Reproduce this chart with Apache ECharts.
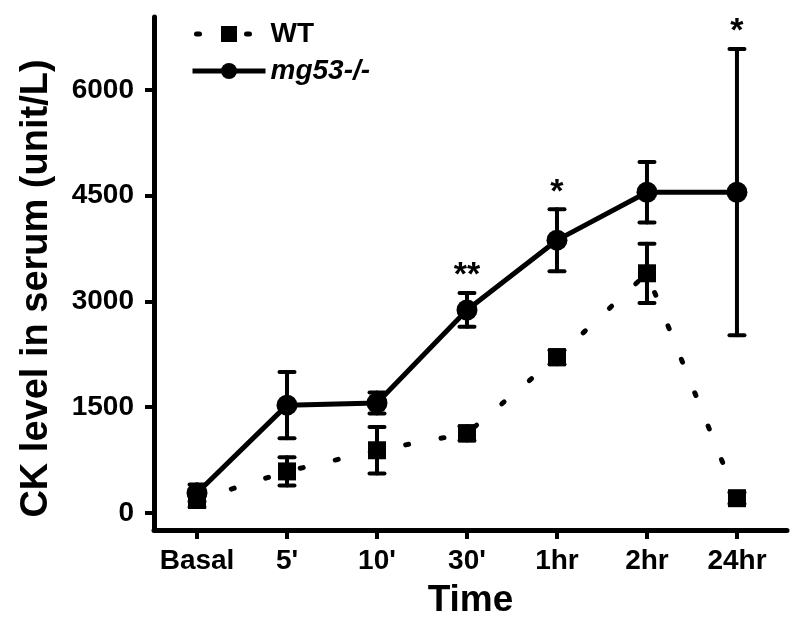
<!DOCTYPE html>
<html><head><meta charset="utf-8">
<script src="https://cdn.jsdelivr.net/npm/echarts@6/dist/echarts.min.js"></script>
<style>html,body{margin:0;padding:0;background:#fff}#c{width:800px;height:637px}</style>
</head><body><div id="c"></div>
<script>
const categories = ['Basal', "5'", "10'", "30'", '1hr', '2hr', '24hr'];
const wtMean = [185, 590, 890, 1130, 2210, 3400, 210];
const wtErr = [100, 200, 330, 100, 100, 420, 80];
const mgMean = [284, 1530, 1560, 2880, 3870, 4550, 4550];
const mgErr = [120, 470, 150, 240, 440, 430, 2030];
const significance = ['', '', '', '**', '*', '', '*'];
const yTicks = [0, 1500, 3000, 4500, 6000];
const seriesNames = ['WT', 'mg53-/-'];

const FONT = '"Liberation Sans", Arial, sans-serif';
const catIdx = categories.map((c, i) => i);
const WT_DASH = [3, 33];

function errSeries(means, errs, sig) {
  return {
    type: 'custom', z: 5, silent: true,
    data: means.map((m, i) => [i, m - errs[i], m + errs[i]]),
    encode: { x: 0, y: [1, 2] },
    renderItem(params, api) {
      const x = api.value(0);
      const lo = api.coord([x, api.value(1)]);
      const hi = api.coord([x, api.value(2)]);
      const hw = 7.5;
      const st = { stroke: '#000', lineWidth: 4, lineCap: 'round' };
      const children = [
        { type: 'line', shape: { x1: lo[0], y1: lo[1], x2: hi[0], y2: hi[1] }, style: st },
        { type: 'line', shape: { x1: lo[0] - hw, y1: lo[1], x2: lo[0] + hw, y2: lo[1] }, style: st },
        { type: 'line', shape: { x1: hi[0] - hw, y1: hi[1], x2: hi[0] + hw, y2: hi[1] }, style: st }
      ];
      const s = sig ? sig[params.dataIndex] : '';
      if (s) {
        children.push({
          type: 'text', x: hi[0], y: hi[1] - 17,
          style: { text: s, fontSize: 34, fontWeight: 'bold', fontFamily: FONT, fill: '#000', align: 'center', verticalAlign: 'middle' }
        });
      }
      return { type: 'group', children };
    }
  };
}

const chart = echarts.init(document.getElementById('c'), null, { renderer: 'canvas' });
chart.setOption({
  animation: false,
  backgroundColor: '#fff',
  textStyle: { fontFamily: FONT },
  grid: { left: 154, right: 13, top: 17, bottom: 107, containLabel: false },
  legend: {
    orient: 'vertical', left: 185, top: 15,
    itemWidth: 73, itemHeight: 20, itemGap: 9,
    data: [
      { name: seriesNames[0], textStyle: { fontStyle: 'normal' }, lineStyle: { width: 5, type: [3, 47], dashOffset: -4, cap: 'round', color: '#000' } },
      { name: seriesNames[1], textStyle: { fontStyle: 'italic' }, lineStyle: { width: 5, type: 'solid', color: '#000' } }
    ],
    textStyle: { fontSize: 28, fontWeight: 'bold', color: '#000', fontFamily: FONT }
  },
  xAxis: {
    type: 'value', min: -0.478, max: 6.556,
    axisLine: { onZero: false, lineStyle: { color: '#000', width: 5 } },
    axisTick: { customValues: catIdx, length: 9, lineStyle: { color: '#000', width: 4 } },
    axisLabel: { customValues: catIdx, formatter: v => categories[Math.round(v)], fontSize: 28, fontWeight: 'bold', color: '#000', margin: 17, fontFamily: FONT },
    splitLine: { show: false },
    name: 'Time', nameLocation: 'middle', nameGap: 52,
    nameTextStyle: { fontSize: 37, fontWeight: 'bold', color: '#000', fontFamily: FONT }
  },
  yAxis: {
    type: 'value', min: -241, max: 7035,
    axisLine: { show: true, onZero: false, lineStyle: { color: '#000', width: 5 } },
    axisTick: { show: true, customValues: yTicks, length: 9, lineStyle: { color: '#000', width: 4 } },
    axisLabel: { customValues: yTicks, formatter: v => String(v), fontSize: 28, fontWeight: 'bold', color: '#000', margin: 20, fontFamily: FONT },
    splitLine: { show: false },
    name: 'CK level in serum (unit/L)', nameLocation: 'middle', nameGap: 98, nameRotate: 90,
    nameTextStyle: { fontSize: 38, fontWeight: 'bold', color: '#000', fontFamily: FONT, padding: [0, 30, 0, 0] }
  },
  series: [
    {
      name: seriesNames[0], type: 'line', z: 3,
      data: wtMean.map((v, i) => [i, v]),
      symbol: 'rect', symbolSize: 18,
      itemStyle: { color: '#000' },
      lineStyle: { color: '#000', width: 5, type: WT_DASH, cap: 'round' }
    },
    {
      name: seriesNames[1], type: 'line', z: 4,
      data: mgMean.map((v, i) => [i, v]),
      symbol: 'circle', symbolSize: 21,
      itemStyle: { color: '#000' },
      lineStyle: { color: '#000', width: 5, type: 'solid' }
    },
    errSeries(wtMean, wtErr, null),
    errSeries(mgMean, mgErr, significance)
  ]
});
</script></body></html>
